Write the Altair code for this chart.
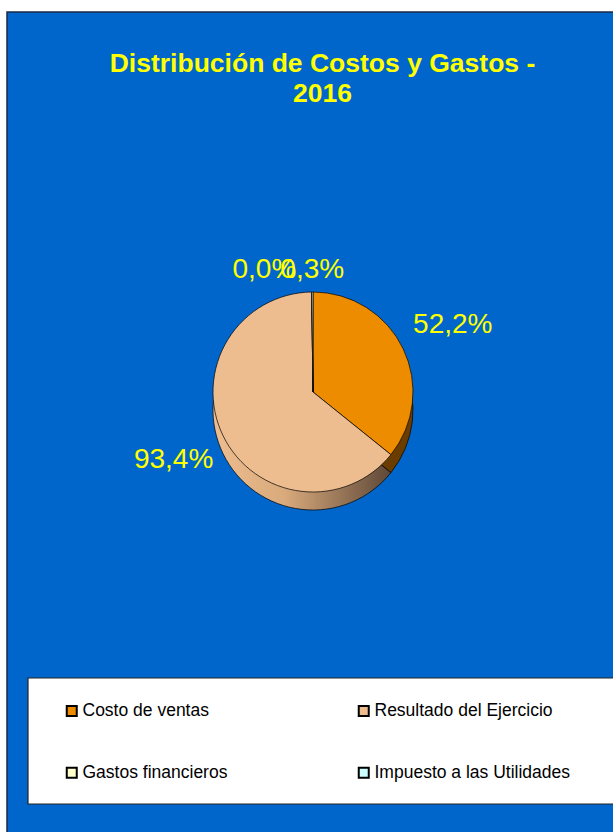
import math
import altair as alt
import pandas as pd

# ---- data ----
categories = ["Costo de ventas", "Resultado del Ejercicio", "Gastos financieros", "Impuesto a las Utilidades"]
values = [52.2, 93.4, 0.0, 0.3]
labels = [f"{v:.1f}".replace(".", ",") + "%" for v in values]
title_lines = ["Distribución de Costos y Gastos -", "2016"]

face_colors = ["#EE8C00", "#EDBD8F", "#FFFFCC", "#CCFFFF"]

df = pd.DataFrame({"cat": categories, "val": values, "idx": list(range(len(values))), "label": labels})

CX, CY, R, D = 313, 392, 100, 18
FONT = "Liberation Sans"

base = (
    alt.Chart(df)
    .transform_window(cum="sum(val)", sort=[alt.SortField("idx")], frame=[None, 0])
    .transform_joinaggregate(total="sum(val)")
    .transform_calculate(
        start="(datum.cum - datum.val) / datum.total",
        end="datum.cum / datum.total",
        mid="(datum.cum - datum.val / 2) / datum.total",
    )
)
tscale = alt.Scale(domain=[0, 1], range=[0, 2 * math.pi])
th = alt.Theta("start:Q", scale=tscale, stack=None)
th2 = alt.Theta2("end:Q")
thm = alt.Theta("mid:Q", scale=tscale, stack=None)

frame_df = pd.DataFrame({"k": [0]})
blue_bg = alt.Chart(frame_df).mark_rect(fill="#0066CC", stroke="#1B2A44", strokeWidth=1.5).encode(
    x=alt.value(7), x2=alt.value(650), y=alt.value(12), y2=alt.value(870)
)
legend_box = alt.Chart(frame_df).mark_rect(fill="white", stroke="#222222", strokeWidth=1.2).encode(
    x=alt.value(28), x2=alt.value(650), y=alt.value(678), y2=alt.value(804)
)

side_orange = base.transform_filter("datum.idx != 1").mark_arc(
    outerRadius=R, fill="#6B3C00", stroke="#000000", strokeWidth=0.7
).encode(theta=th, theta2=th2, x=alt.value(CX), y=alt.value(CY + D))

side_beige = base.transform_filter("datum.idx == 1").mark_arc(
    outerRadius=R,
    fill=alt.LinearGradient(
        gradient="linear",
        stops=[
            alt.GradientStop(color="#EDBD8F", offset=0),
            alt.GradientStop(color="#D9AA7C", offset=0.4),
            alt.GradientStop(color="#5E4838", offset=1),
        ],
        x1=0, x2=1, y1=0, y2=0,
    ),
    stroke="#000000",
    strokeWidth=0.7,
).encode(theta=th, theta2=th2, x=alt.value(CX), y=alt.value(CY + D))

face = base.mark_arc(outerRadius=R, stroke="#000000", strokeWidth=0.7).encode(
    theta=th,
    theta2=th2,
    x=alt.value(CX),
    y=alt.value(CY),
    color=alt.Color(
        "cat:N",
        scale=alt.Scale(domain=categories, range=face_colors),
        legend=alt.Legend(title=None, direction="horizontal"),
    ),
)

lab_main = base.transform_filter("datum.idx < 2").mark_text(
    radius=R + 55, fontSize=28, color="#FFFF00", font=FONT
).encode(theta=thm, text="label:N", x=alt.value(CX), y=alt.value(CY))

lab_zero = base.transform_filter("datum.idx == 2").mark_text(
    radius=R + 22, fontSize=28, color="#FFFF00", font=FONT, dx=-47
).encode(theta=thm, text="label:N", x=alt.value(CX), y=alt.value(CY))

lab_small = base.transform_filter("datum.idx == 3").mark_text(
    radius=R + 22, fontSize=28, color="#FFFF00", font=FONT
).encode(theta=thm, text="label:N", x=alt.value(CX), y=alt.value(CY))

chart = (
    alt.layer(blue_bg, legend_box, side_orange, side_beige, face, lab_main, lab_zero, lab_small)
    .properties(
        width=613,
        height=832,
        padding=0,
        autosize=alt.AutoSizeParams(type="none"),
        background="white",
        title=alt.TitleParams(
            text=title_lines,
            font=FONT,
            fontSize=26.5,
            fontWeight="bold",
            color="#FFFF00",
            anchor="middle",
            frame="group",
            dx=16,
            dy=111,
            lineHeight=30,
        ),
    )
    .configure_view(stroke=None)
    .configure_legend(
        orient="none",
        legendX=63,
        legendY=702,
        columns=2,
        columnPadding=126,
        rowPadding=43,
        symbolType="square",
        symbolSize=100,
        symbolStrokeColor="black",
        symbolStrokeWidth=2,
        labelFontSize=17.5,
        labelFont=FONT,
        labelColor="black",
        labelLimit=300,
        labelOffset=2,
    )
)

chart.save("out.html", embed_options={"renderer": "svg", "actions": False})
